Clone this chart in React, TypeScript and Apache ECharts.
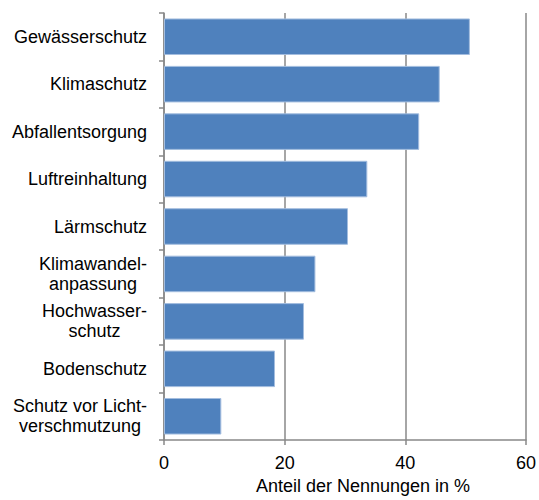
import React, { useEffect, useRef } from "react";
import * as echarts from "echarts";

const categories = [
  "Gewässerschutz",
  "Klimaschutz",
  "Abfallentsorgung",
  "Luftreinhaltung",
  "Lärmschutz",
  "Klimawandel-\nanpassung",
  "Hochwasser-\nschutz",
  "Bodenschutz",
  "Schutz vor Licht-\nverschmutzung",
];
const values = [50.7, 45.7, 42.3, 33.7, 30.5, 25.1, 23.2, 18.4, 9.5];
const xTicks = { min: 0, max: 60, interval: 20 };
const xAxisTitle = "Anteil der Nennungen in %";

const FONT = "'Liberation Sans', Arial, sans-serif";
const AXIS_GRAY = "#898989";
const FS = 18;

export default function App() {
  const ref = useRef<HTMLDivElement>(null);
  useEffect(() => {
    if (!ref.current) return;
    const chart = echarts.init(ref.current, undefined, { renderer: "svg" });
    chart.setOption({
      animation: false,
      backgroundColor: "#ffffff",
      grid: { left: 164, right: 12, top: 13, bottom: 54, containLabel: false },
      xAxis: {
        type: "value",
        min: xTicks.min,
        max: xTicks.max,
        interval: xTicks.interval,
        name: xAxisTitle,
        nameLocation: "middle",
        nameGap: 37,
        nameTextStyle: {
          fontFamily: FONT,
          fontSize: FS,
          color: "#000",
          padding: [0, 0, 0, 36],
        },
        axisLine: { show: true, lineStyle: { color: AXIS_GRAY, width: 1.5 } },
        axisTick: { show: true, length: 5, lineStyle: { color: AXIS_GRAY, width: 1.5 } },
        axisLabel: { fontFamily: FONT, fontSize: FS, color: "#000", margin: 14 },
        splitLine: { show: true, lineStyle: { color: AXIS_GRAY, width: 1.5 } },
      },
      yAxis: {
        type: "category",
        data: categories,
        inverse: true,
        axisLine: { show: true, lineStyle: { color: AXIS_GRAY, width: 1.5 } },
        axisTick: { show: true, length: 5, lineStyle: { color: AXIS_GRAY, width: 1.5 } },
        axisLabel: {
          margin: 17,
          color: "#000",
          fontFamily: FONT,
          fontSize: FS,
          lineHeight: 20,
          formatter: (v: string) =>
            v
              .split("\n")
              .map((l) => `{c|${l}}`)
              .join("\n"),
          rich: {
            c: {
              align: "center",
              fontFamily: FONT,
              fontSize: FS,
              lineHeight: 20,
              color: "#000",
            },
          },
        },
        splitLine: { show: false },
      },
      series: [
        {
          type: "bar",
          data: values,
          barCategoryGap: "23%",
          itemStyle: {
            color: "#4F81BD",
            borderColor: "#A3BDDF",
            borderWidth: 1,
          },
        },
      ],
    });
    return () => chart.dispose();
  }, []);
  return (
    <div
      ref={ref}
      style={{ position: "absolute", left: 0, top: 0, width: 539, height: 500 }}
    />
  );
}
